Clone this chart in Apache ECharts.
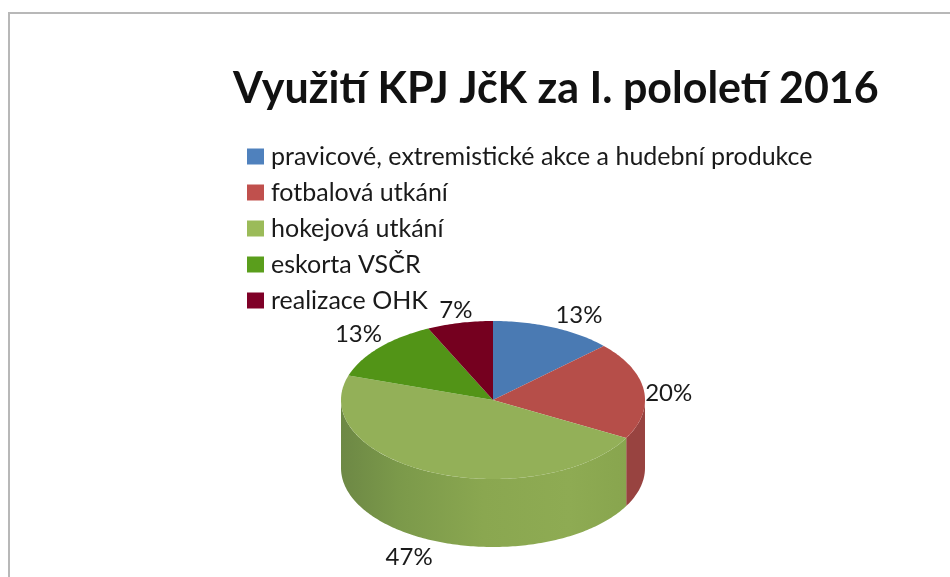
<!DOCTYPE html>
<html>
<head>
<meta charset="utf-8">
<title>Využití KPJ JčK</title>
<style>
  html, body { margin: 0; padding: 0; background: #fff; }
  #chart { width: 950px; height: 577px; }
</style>
<script src="https://cdn.jsdelivr.net/npm/echarts@6/dist/echarts.min.js"></script>
</head>
<body>
<div id="chart"></div>
<script>
const chartTitle = 'Využití KPJ JčK za I. pololetí 2016'
const categories = [
  'pravicové, extremistické akce a hudební produkce',
  'fotbalová utkání',
  'hokejová utkání',
  'eskorta VSČR',
  'realizace OHK'
]
const shares = [13, 20, 47, 13, 7]

const legendColors = ['#4f81bd', '#c0504d', '#9bbb59', '#5a9e1c', '#7f0027']
const topColors = ['#4a7ab3', '#b64e49', '#93b058', '#529417', '#75001f']
const labelOffsets = [[20, 1], [11, 5], [-18, 4], [-10, -4], [-1, 1]]

const FONT = 'Lato, "Open Sans", sans-serif'
const CX = 493, CY = 400, RX = 152, RY = 79, DEPTH = 68

// podil v % -> úhel od 12 hodin po směru hodin
function edgePoint(deg, dy) {
  const a = deg * Math.PI / 180
  return [CX + RX * Math.sin(a), CY - RY * Math.cos(a) + dy]
}

function arcPoints(from, to, dy) {
  const n = Math.max(2, Math.ceil(Math.abs(to - from)))
  const pts = []
  for (let i = 0; i <= n; i++) pts.push(edgePoint(from + (to - from) * i / n, dy))
  return pts
}

function wallFill(index) {
  if (index === 1) return '#984340'
  return new echarts.graphic.LinearGradient(0, 0, 1, 0, [
    { offset: 0, color: '#6d8845' },
    { offset: 0.2, color: '#7b994a' },
    { offset: 0.5, color: '#8aa750' },
    { offset: 0.8, color: '#8eab53' },
    { offset: 1, color: '#88a54e' }
  ])
}

function renderSlice(index) {
  return function (params, api) {
    const start = api.value(0) * 3.6
    const end = api.value(1) * 3.6
    const children = []

    // boční stěna je vidět jen na přední polovině
    const wallFrom = Math.max(start, 90)
    const wallTo = Math.min(end, 270)
    if (wallTo > wallFrom) {
      children.push({
        type: 'polygon',
        shape: { points: arcPoints(wallFrom, wallTo, 0).concat(arcPoints(wallTo, wallFrom, DEPTH)) },
        style: { fill: wallFill(index) }
      })
    }

    children.push({
      type: 'polygon',
      shape: { points: [[CX, CY]].concat(arcPoints(start, end, 0)) },
      style: { fill: topColors[index] }
    })
    return { type: 'group', children }
  }
}

function renderLabel(index) {
  return function (params, api) {
    const mid = (api.value(0) + api.value(1)) / 2 * 3.6
    const a = mid * Math.PI / 180
    const dy = Math.cos(a) < 0 ? DEPTH : 0
    const labelPos = [
      CX + (RX + 14) * Math.sin(a) + labelOffsets[index][0],
      CY - (RY + 14) * Math.cos(a) + dy + labelOffsets[index][1]
    ]
    return {
      type: 'text',
      style: {
        text: api.value(2) + '%',
        x: labelPos[0],
        y: labelPos[1],
        align: 'center',
        verticalAlign: 'middle',
        fontSize: 24,
        fontFamily: FONT,
        fill: '#1a1a1a'
      }
    }
  }
}

const series = []
let running = 0
categories.forEach((name, i) => {
  const from = running
  running += shares[i]
  series.push({
    type: 'custom',
    name,
    coordinateSystem: 'none',
    itemStyle: { color: legendColors[i] },
    renderItem: renderSlice(i),
    data: [[from, running, shares[i]]],
    silent: true,
    z: 2
  })
})
running = 0
categories.forEach((name, i) => {
  const from = running
  running += shares[i]
  series.push({
    type: 'custom',
    name: name + ' popisek',
    coordinateSystem: 'none',
    renderItem: renderLabel(i),
    data: [[from, running, shares[i]]],
    silent: true,
    z: 3
  })
})

const chart = echarts.init(document.getElementById('chart'))
chart.setOption({
  animation: false,
  backgroundColor: '#fff',
  title: {
    text: chartTitle,
    left: 228,
    top: 59,
    textStyle: { fontFamily: FONT, fontSize: 43, fontWeight: 'bold', color: '#111', lineHeight: 50 }
  },
  legend: {
    data: categories,
    orient: 'vertical',
    left: 247,
    top: 144,
    padding: 0,
    icon: 'rect',
    itemWidth: 17,
    itemHeight: 16,
    itemGap: 11,
    selectedMode: false,
    textStyle: { fontFamily: FONT, fontSize: 25, color: '#1a1a1a', lineHeight: 16, padding: [0, 0, 0, 2] }
  },
  graphic: [{
    type: 'polyline',
    silent: true,
    shape: { points: [[9, 577], [9, 13], [950, 13]] },
    style: { stroke: '#b8b8b8', lineWidth: 2, fill: null }
  }],
  series
})
</script>
</body>
</html>
